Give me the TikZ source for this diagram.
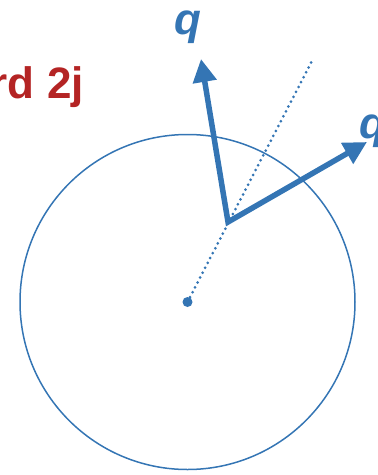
\documentclass[tikz,border=0pt]{standalone}
\usepackage{fontspec}
\setmainfont{Liberation Sans}
\usetikzlibrary{arrows.meta}
\definecolor{qblue}{RGB}{52,117,180}
\definecolor{qred}{RGB}{180,36,36}
\begin{document}
\begin{tikzpicture}[x=1pt,y=-1pt,
  vec/.style={draw=qblue,line width=5.5pt,line join=miter,
    {Triangle[length=23pt,width=23pt]}-{Triangle[length=23pt,width=23pt]}},
  axis/.style={draw=qblue,line width=3pt,dash pattern=on 0pt off 5.5pt,line cap=round},
  ring/.style={draw=qblue,line width=1.5pt},
  qlab/.style={text=qblue,inner sep=0pt,font=\fontsize{44}{50}\selectfont\bfseries\itshape},
  rlab/.style={text=qred,inner sep=0pt,font=\fontsize{44}{50}\selectfont\bfseries}]
\useasboundingbox (0,0) rectangle (378,475);
\clip (0,0) rectangle (378,475);
\coordinate (c) at (187.5,302);
\coordinate (v) at (228,222);
\coordinate (t1) at (201,59);
\coordinate (t2) at (367,142);
\coordinate (d) at (313,59);
\draw[ring] (c) circle[radius=167.5];
\draw[axis] (c) -- (d);
\fill[qblue] (c) circle[radius=5];
\draw[vec] (t1) -- (v) -- (t2);
\node[qlab,anchor=base] (q1) at (188,34) {q};
\node[qlab,anchor=base west] (q2) at (359,138) {q};
\node[rlab,anchor=base east] (lab) at (84,98) {rd 2j};
\end{tikzpicture}
\end{document}
